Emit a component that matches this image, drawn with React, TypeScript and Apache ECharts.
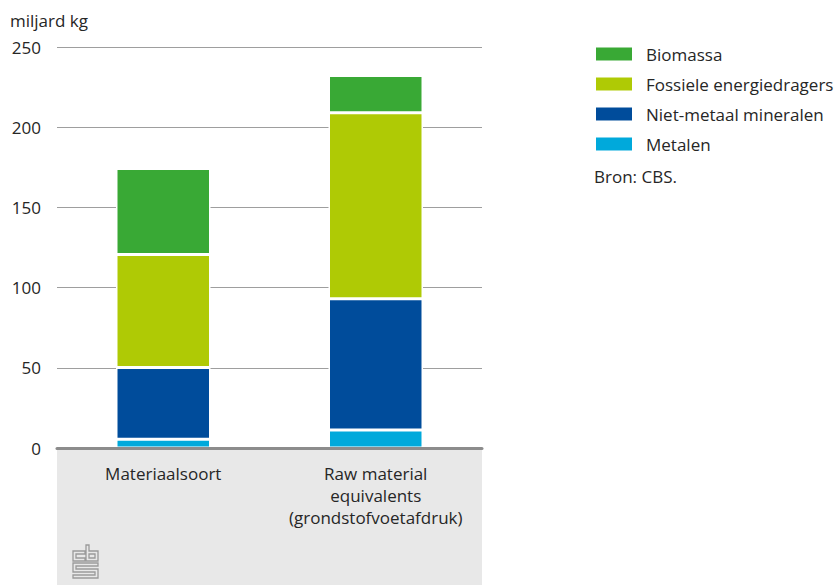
import React, { useEffect, useRef } from "react";
import * as echarts from "echarts";

const categories = ["Materiaalsoort", "Raw material\nequivalents\n(grondstofvoetafdruk)"];
const metalen = [5.4, 11.2];
const nietMetaal = [44.8, 81.8];
const fossiel = [70.4, 116.0];
const biomassa = [53.6, 23.2];
const yTicks = { min: 0, max: 250, interval: 50 };
const legendOrder = ["Biomassa", "Fossiele energiedragers", "Niet-metaal mineralen", "Metalen"];

const FONT = "'Open Sans', 'Noto Sans', sans-serif";
const TEXT = "#262626";

// CBS logo outline, drawn as a path
const logoD =
  "M12,6 H0 V16 H12 V13 H3 V9 H12 Z " +
  "M13,0 H16 V6 H25 V16 H13 Z M16,9 H22 V13 H16 Z " +
  "M0,18 H25 V21 H3 V24 H25 V33 H0 V30 H22 V27 H0 Z";
echarts.graphic.registerShape("cbsLogo", echarts.graphic.extendPath(logoD, {}) as any);

export default function App() {
  const ref = useRef<HTMLDivElement>(null);

  useEffect(() => {
    if (!ref.current) return;
    const chart = echarts.init(ref.current, undefined, { renderer: "svg" });

    const bar = (name: string, data: number[], color: string) => ({
      name,
      type: "bar",
      stack: "total",
      data,
      barWidth: 94.5,
      itemStyle: { color, borderColor: "#ffffff", borderWidth: 1.5 },
      z: 2,
    });

    chart.setOption({
      animation: false,
      textStyle: { fontFamily: FONT },
      grid: { left: 57, right: 356, top: 47, bottom: 137, containLabel: false },
      legend: {
        data: legendOrder,
        orient: "vertical",
        left: 594,
        top: 45.5,
        padding: 0,
        itemWidth: 38,
        itemHeight: 15,
        itemGap: 13,
        icon: "rect",
        selectedMode: false,
        textStyle: { color: TEXT, fontSize: 17, fontFamily: FONT, padding: [0, 0, 0, 8] },
      },
      xAxis: {
        type: "category",
        data: categories,
        z: 10,
        axisLine: { show: true, lineStyle: { color: "#8c8c8c", width: 3 } },
        axisTick: { show: false },
        axisLabel: { color: TEXT, fontSize: 17, lineHeight: 22, margin: 14, fontFamily: FONT, interval: 0 },
      },
      yAxis: {
        type: "value",
        min: yTicks.min,
        max: yTicks.max,
        interval: yTicks.interval,
        axisLine: { show: false },
        axisTick: { show: false },
        axisLabel: { color: TEXT, fontSize: 17, margin: 16, fontFamily: FONT },
        splitLine: { lineStyle: { color: "#9e9e9e", width: 1 } },
      },
      graphic: [
        {
          type: "rect",
          z: -10,
          shape: { x: 57, y: 448, width: 425, height: 137 },
          style: { fill: "#e8e8e8" },
          silent: true,
        },
        {
          type: "text",
          x: 10,
          y: 20,
          style: { text: "miljard kg", fill: TEXT, fontSize: 17, fontFamily: FONT, textVerticalAlign: "middle" },
        },
        {
          type: "text",
          x: 594,
          y: 176,
          style: { text: "Bron: CBS.", fill: TEXT, fontSize: 17, fontFamily: FONT, textVerticalAlign: "middle" },
        },
        {
          type: "cbsLogo",
          x: 73,
          y: 545,
          z: 5,
          style: { fill: "none", stroke: "#9a9a9a", lineWidth: 1.3 },
          silent: true,
        },
      ],
      series: [
        bar("Metalen", metalen, "#00a9db"),
        bar("Niet-metaal mineralen", nietMetaal, "#004c9b"),
        bar("Fossiele energiedragers", fossiel, "#afca05"),
        bar("Biomassa", biomassa, "#39a935"),
      ],
    });

    return () => chart.dispose();
  }, []);

  return <div ref={ref} style={{ width: 838, height: 585, position: "absolute", left: 0, top: 0 }} />;
}
